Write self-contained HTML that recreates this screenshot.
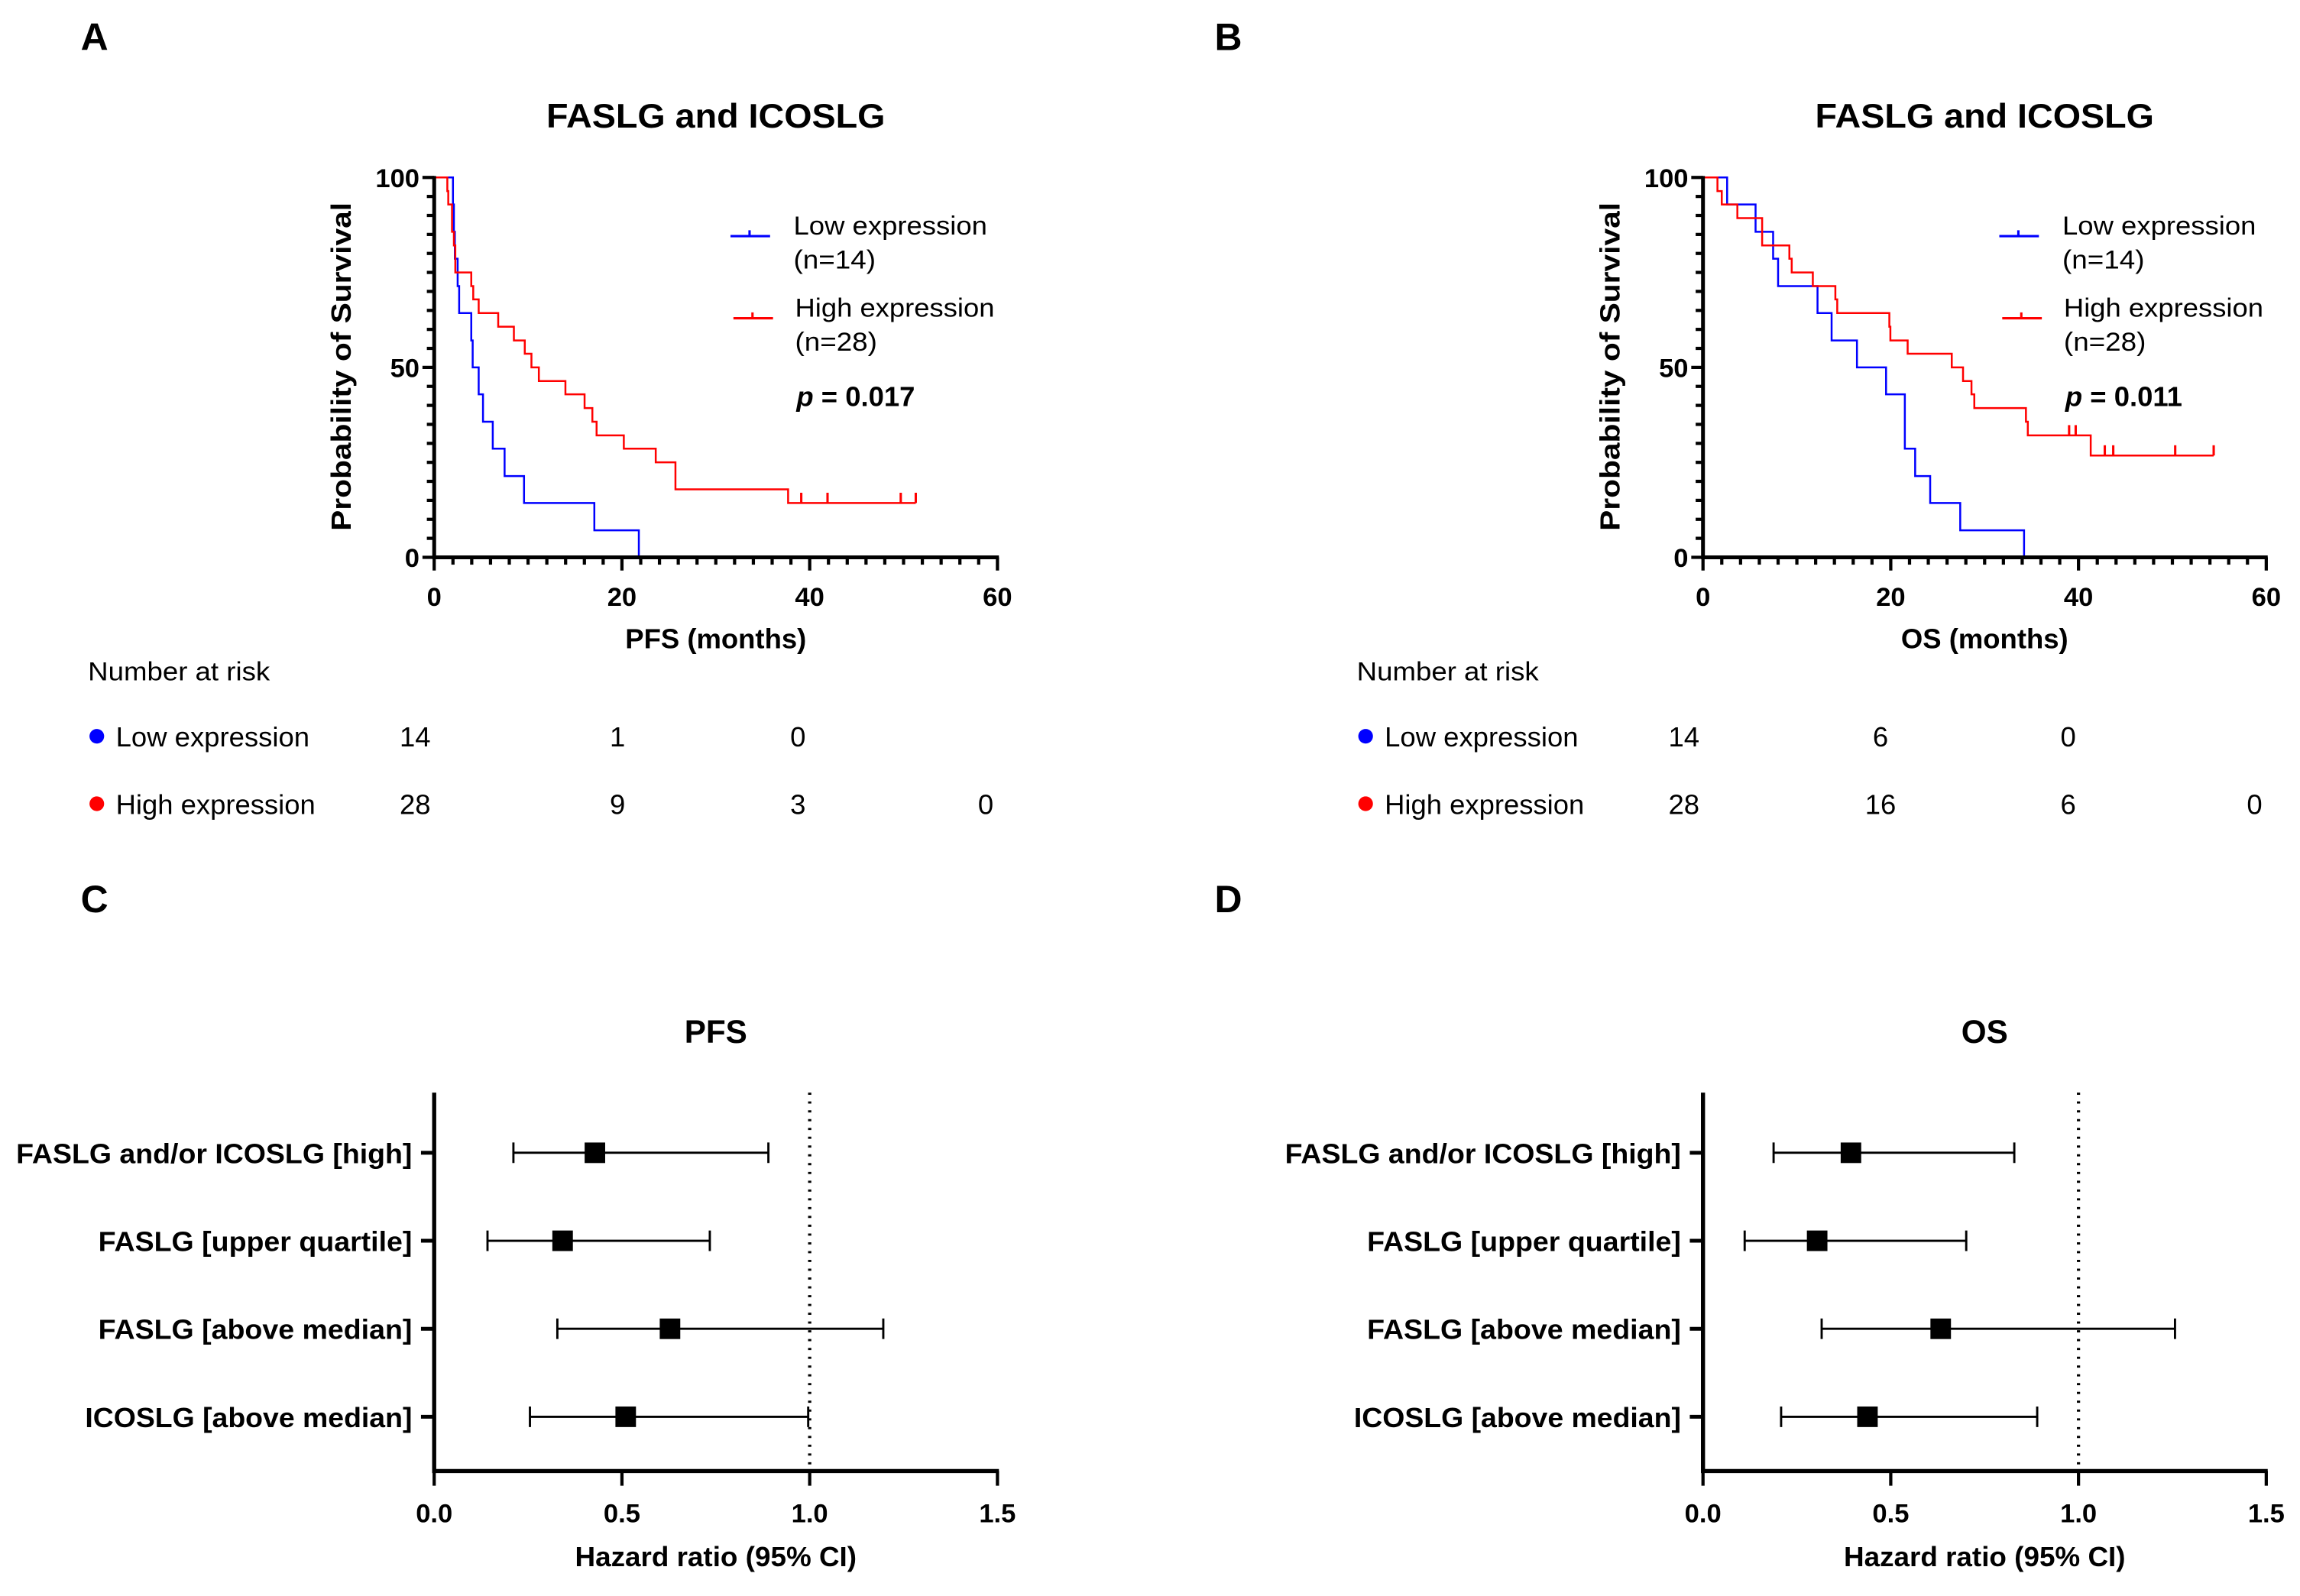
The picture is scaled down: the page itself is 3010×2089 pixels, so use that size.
<!DOCTYPE html>
<html><head><meta charset="utf-8"><style>
html,body{margin:0;padding:0;background:#fff;}
svg{display:block;}
text{font-family:"Liberation Sans",Arial,sans-serif;fill:#000;}
</style></head><body>
<svg id="fig" width="3010" height="2089" viewBox="0 0 1568 1088.2" preserveAspectRatio="none" xmlns="http://www.w3.org/2000/svg">
<rect width="1568" height="1089" fill="#fff"/>
<g id="root"></g>
</svg>
<script>
// ---- Panel A data (PFS) ----
const aLowTimes=[2.0,2.1,2.2,2.5,2.66,3.95,4.1,4.74,5.2,6.24,7.5,9.57,17.06,21.8];
const aLowSurv=[92.9,85.7,78.6,71.4,64.3,57.1,50,42.9,35.7,28.6,21.4,14.3,7.1,0];
const aHighTimes=[1.4,1.5,1.9,2.1,2.25,3.95,4.16,4.74,6.82,8.49,9.65,10.36,11.15,13.98,16.02,16.85,17.3,20.2,23.6,25.7,37.7];
const aHighSurv=[96.4,92.9,85.7,82.1,75,71.4,67.9,64.3,60.7,57.1,53.6,50,46.4,42.9,39.3,35.7,32.1,28.6,25,17.9,14.3];
const aHighCensor=[39.1,41.9,49.7,51.3];
const aRiskLow=["14","1","0"];
const aRiskHigh=["28","9","3","0"];
// ---- Panel B data (OS) ----
const bLowTimes=[2.57,5.6,7.47,8.0,12.2,13.7,16.4,19.5,21.5,22.6,24.2,27.4,34.2];
const bLowSurv=[92.9,85.7,78.6,71.4,64.3,57.1,50,42.9,28.6,21.4,14.3,7.1,0];
const bHighTimes=[1.54,2.0,3.66,6.3,9.2,9.45,11.7,14.1,14.3,19.85,19.96,21.8,26.5,27.7,28.6,28.9,34.4,34.6,41.3];
const bHighSurv=[96.4,92.9,89.3,82.1,78.6,75,71.4,67.9,64.3,60.7,57.1,53.6,50,46.4,42.9,39.3,35.7,32.1,26.8];
const bHighCensor=[39.0,39.7,42.8,43.7,50.3,54.4];
const bRiskLow=["14","6","0"];
const bRiskHigh=["28","16","6","0"];
const kmXTicks=[0,20,40,60];
const kmYTicks=[0,50,100];
// ---- Forest data ----
const forestLabels=["FASLG and/or ICOSLG [high]","FASLG [upper quartile]","FASLG [above median]","ICOSLG [above median]"];
const pfsHR=[0.428,0.342,0.628,0.51];
const pfsLo=[0.211,0.142,0.328,0.255];
const pfsHi=[0.89,0.734,1.196,0.996];
const osHR=[0.394,0.304,0.633,0.438];
const osLo=[0.188,0.111,0.316,0.208];
const osHi=[0.829,0.701,1.257,0.89];
const hrTicks=[0,0.5,1.0,1.5];
const hrTickLabels=["0.0","0.5","1.0","1.5"];

const NS="http://www.w3.org/2000/svg";
const root=document.getElementById('root');
function el(tag,attrs,parent){const e=document.createElementNS(NS,tag);for(const k in attrs)e.setAttribute(k,attrs[k]);(parent||root).appendChild(e);return e;}
function txt(s,x,y,size,bold,anchor,parent,len){const t=el('text',{x:x,y:y,'font-size':size,'text-anchor':anchor||'start'},parent);if(bold)t.setAttribute('font-weight','bold');if(len){t.setAttribute('textLength',len);t.setAttribute('lengthAdjust','spacingAndGlyphs');}t.textContent=s;return t;}

function survAt(times,surv,t){let s=100;for(let i=0;i<times.length;i++){if(times[i]<=t)s=surv[i];}return s;}

function kmPanel(ox,letter,letterX,xTitle,lowT,lowS,highT,highS,highC,riskLow,riskHigh,pval,riskX,riskValX,name){
  const g=el('g',{});
  
  
  const x0=ox, x1=ox+384, y0=380, y1=121;
  const sx=v=>x0+(v/60)*(x1-x0);
  const sy=v=>y0-(v/100)*(y0-y1);
  const L=txt(letter,letterX,34,26,true,'start',g);
  
  const T=txt('FASLG and ICOSLG',x0+192,87,23,true,'middle',g,231);
  
  function curve(times,surv,color,endT,cname){
    let d='M'+sx(0)+','+sy(100);
    for(let i=0;i<times.length;i++){d+=' H'+sx(times[i])+' V'+sy(surv[i]);}
    if(endT!==undefined && sx(endT)>sx(times[times.length-1]))d+=' H'+sx(endT);
    const p=el('path',{d:d,fill:'none',stroke:color,'stroke-width':1.3},g);
    
  }
  curve(lowT,lowS,'#0000ff',undefined,'curve-low-expression');
  const endH=highC.length?highC[highC.length-1]:highT[highT.length-1];
  curve(highT,highS,'#ff0000',endH,'curve-high-expression');
  highC.forEach(c=>{const yy=sy(survAt(highT,highS,c));const m=el('line',{x1:sx(c),x2:sx(c),y1:yy,y2:yy-7,stroke:'#ff0000','stroke-width':1.6},g);
    });
  const ax=el('path',{d:`M${x0},${y1-1} V${y0} H${x1+1}`,fill:'none',stroke:'#000','stroke-width':2.6},g);
  
  for(let v=0;v<=100;v+=5){const maj=v%50===0;el('line',{x1:x0-(maj?8:5),x2:x0,y1:sy(v),y2:sy(v),stroke:'#000','stroke-width':2.2},g);}
  for(let v=0;v<=60;v+=2){const maj=v%20===0;el('line',{x1:sx(v),x2:sx(v),y1:y0,y2:y0+(maj?9:5),stroke:'#000','stroke-width':2.2},g);}
  kmYTicks.forEach(v=>{const t=txt(String(v),x0-10,sy(v)+6.5,18,true,'end',g);});
  kmXTicks.forEach(v=>{const t=txt(String(v),sx(v),413,18,true,'middle',g);});
  const yt=txt('Probability of Survival',0,0,19,true,'middle',g,224);
  yt.setAttribute('transform',`translate(${x0-57},250) rotate(-90)`);
  
  const xt=txt(xTitle,x0+192,442,19,true,'middle',g);
  
  const lg=el('g',{},g);
  const lx=x0+202;
  el('line',{x1:lx,x2:lx+27,y1:161,y2:161,stroke:'#0000ff','stroke-width':1.6},lg);
  el('line',{x1:lx+13,x2:lx+13,y1:161,y2:157,stroke:'#0000ff','stroke-width':1.6},lg);
  txt('Low expression',lx+43,160,18,false,'start',lg,132);
  txt('(n=14)',lx+43,183,18,false,'start',lg,56);
  el('line',{x1:lx+2,x2:lx+29,y1:217,y2:217,stroke:'#ff0000','stroke-width':1.6},lg);
  el('line',{x1:lx+15,x2:lx+15,y1:217,y2:213,stroke:'#ff0000','stroke-width':1.6},lg);
  txt('High expression',lx+44,216,18,false,'start',lg,136);
  txt('(n=28)',lx+44,239,18,false,'start',lg,56);
  const pt=el('text',{x:lx+45,y:277,'font-size':19,'font-weight':'bold'},g);
  
  const ti=el('tspan',{'font-style':'italic'},pt);ti.textContent='p';
  const tr=el('tspan',{},pt);tr.textContent=' = '+pval;
  const rg=el('g',{},g);
  txt('Number at risk',riskX,464,18,false,'start',rg,124);
  el('circle',{cx:riskX+6,cy:502,r:5,fill:'#0000ff'},rg);
  txt('Low expression',riskX+19,509,19,false,'start',rg,132);
  el('circle',{cx:riskX+6,cy:548,r:5,fill:'#ff0000'},rg);
  txt('High expression',riskX+19,555,19,false,'start',rg,136);
  riskLow.forEach((v,i)=>txt(v,riskValX[i],509,19,false,'middle',rg));
  riskHigh.forEach((v,i)=>txt(v,riskValX[i],555,19,false,'middle',rg));
}

function forestPanel(ox,letter,letterX,title,hr,lo,hi,name){
  const g=el('g',{});
  
  
  const x0=ox,x1=ox+384,yTop=745,yBot=1003;
  const sx=v=>x0+(v/1.5)*(x1-x0);
  const rowY=i=>786+i*60;
  const L=txt(letter,letterX,622,26,true,'start',g);
  
  const T=txt(title,x0+192,711,22,true,'middle',g);
  
  const ref=el('line',{x1:sx(1),x2:sx(1),y1:yTop,y2:yBot,stroke:'#000','stroke-width':2.2,'stroke-dasharray':'1.5 4.5'},g);
  
  const ax=el('path',{d:`M${x0},${yTop} V${yBot} H${x1+1}`,fill:'none',stroke:'#000','stroke-width':2.8},g);
  
  hrTicks.forEach((v,i)=>{el('line',{x1:sx(v),x2:sx(v),y1:yBot,y2:yBot+10,stroke:'#000','stroke-width':2.2},g);
    const t=txt(hrTickLabels[i],sx(v),1038,18,true,'middle',g);});
  const xt=txt('Hazard ratio (95% CI)',x0+192,1068,19,true,'middle',g,192);
  
  const labLen=[270,214,214,223];
  forestLabels.forEach((lab,i)=>{
    const y=rowY(i);
    el('line',{x1:x0-9,x2:x0,y1:y,y2:y,stroke:'#000','stroke-width':2.6},g);
    const t=txt(lab,x0-15,y+7,19,true,'end',g,labLen[i]);
    
    const w=el('path',{d:`M${sx(lo[i])},${y-7} V${y+7} M${sx(lo[i])},${y} H${sx(hi[i])} M${sx(hi[i])},${y-7} V${y+7}`,fill:'none',stroke:'#000','stroke-width':1.5},g);
    
    const r=el('rect',{x:sx(hr[i])-7,y:y-7,width:14,height:14,fill:'#000'},g);
    
  });
}

kmPanel(296,'A',55,'PFS (months)',aLowTimes,aLowSurv,aHighTimes,aHighSurv,aHighCensor,aRiskLow,aRiskHigh,'0.017',60,[283,421,544,672],'km-plot-pfs');
kmPanel(1161,'B',828,'OS (months)',bLowTimes,bLowSurv,bHighTimes,bHighSurv,bHighCensor,bRiskLow,bRiskHigh,'0.011',925,[1148,1282,1410,1537],'km-plot-os');
forestPanel(296,'C',55,'PFS',pfsHR,pfsLo,pfsHi,'forest-plot-pfs');
forestPanel(1161,'D',828,'OS',osHR,osLo,osHi,'forest-plot-os');
</script>
</body></html>
